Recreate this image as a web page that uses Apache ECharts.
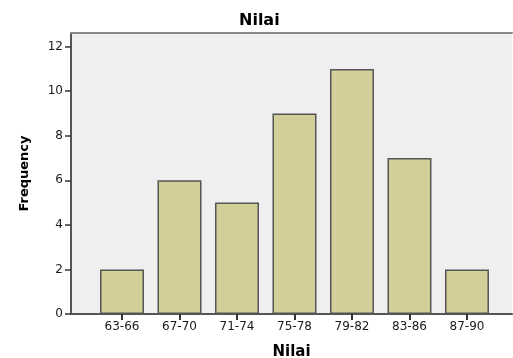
<!DOCTYPE html>
<html>
<head>
<meta charset="utf-8">
<script src="https://cdn.jsdelivr.net/npm/echarts@6/dist/echarts.min.js"></script>
<style>html,body{margin:0;padding:0;background:#fff}#c{width:513px;height:358px}</style>
</head>
<body>
<div id="c"></div>
<script>
var categories = ['63-66', '67-70', '71-74', '75-78', '79-82', '83-86', '87-90'];
var frequency = [2, 6, 5, 9, 11, 7, 2];
var yTicks = [0, 2, 4, 6, 8, 10, 12];
var title = 'Nilai';
var xName = 'Nilai';
var yName = 'Frequency';

var positions = categories.map(function (c, i) { return i; });
var barData = frequency.map(function (v, i) { return [positions[i], v]; });

var FONT = 'DejaVu Sans';
var chart = echarts.init(document.getElementById('c'));
chart.setOption({
  animation: false,
  backgroundColor: '#ffffff',
  title: {
    text: title,
    left: 234, top: 8,
    textStyle: { fontFamily: FONT, fontSize: 16, fontWeight: 'bold', color: '#000' }
  },
  grid: {
    left: 71, right: 1, top: 33, bottom: 44,
    outerBoundsMode: 'none', containLabel: false,
    show: true, backgroundColor: '#efefef', borderWidth: 0
  },
  xAxis: [{
    type: 'value',
    min: -0.887, max: 6.783,
    name: xName, nameLocation: 'middle', nameGap: 31,
    nameTextStyle: { fontFamily: FONT, fontSize: 15, fontWeight: 'bold', color: '#000' },
    axisLine: { show: true, onZero: false, lineStyle: { color: '#555', width: 2 } },
    axisTick: { show: true, customValues: positions, length: 6, inside: false, lineStyle: { color: '#333', width: 2 } },
    axisLabel: {
      customValues: positions, margin: 7,
      fontFamily: FONT, fontSize: 12, color: '#1a1a1a',
      formatter: function (v) { return categories[Math.round(v)]; }
    },
    splitLine: { show: false }
  }, {
    type: 'value', position: 'top',
    min: -0.887, max: 6.783,
    axisLine: { show: true, onZero: false, lineStyle: { color: '#8a8a8a', width: 2 } },
    axisTick: { show: false }, axisLabel: { show: false }, splitLine: { show: false }
  }],
  yAxis: {
    type: 'value',
    min: 0, max: 12.61,
    name: yName, nameLocation: 'middle', nameGap: 40, nameRotate: 90,
    nameTextStyle: { fontFamily: FONT, fontSize: 13, fontWeight: 'bold', color: '#000' },
    axisLine: { show: true, onZero: false, lineStyle: { color: '#555', width: 2 } },
    axisTick: { show: true, customValues: yTicks, length: 6, lineStyle: { color: '#333', width: 1.5 } },
    axisLabel: { customValues: yTicks, margin: 8, fontFamily: FONT, fontSize: 12, color: '#1a1a1a' },
    splitLine: { show: false }
  },
  series: [{
    type: 'bar',
    data: barData,
    barWidth: 44,
    itemStyle: { color: '#d3cf98', borderColor: '#555', borderWidth: 1.5 }
  }]
});
</script>
</body>
</html>
